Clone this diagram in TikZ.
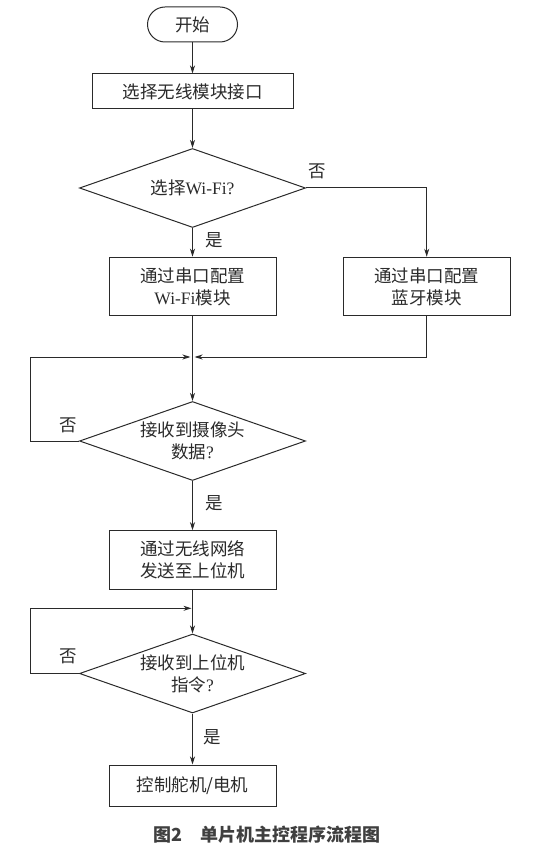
\documentclass[tikz,border=0pt]{standalone}
\usepackage{fontspec}
\setmainfont{Liberation Serif}
\newfontfamily\cjk{Noto Sans CJK SC}
\usetikzlibrary{shapes.geometric,arrows.meta}
\definecolor{ink}{HTML}{2A2A2A}
\begin{document}
\begin{tikzpicture}[x=1pt,y=-1pt,line width=1pt,
  every node/.style={text=ink},
  txt/.style={font=\cjk\fontsize{17.5}{22}\selectfont, align=center, inner sep=0pt},
  startbox/.style={draw=ink, rectangle, rounded corners=17.5pt, minimum width=90pt, minimum height=35pt, inner sep=0pt, txt},
  procbox/.style={draw=ink, rectangle, minimum width=167pt, minimum height=58.5pt, inner sep=0pt, txt},
  dia/.style={draw=ink, diamond, minimum width=226pt, minimum height=79pt, inner sep=0pt},
  lbl/.style={txt},
  arr/.style={draw=ink, -{Stealth[length=8pt,width=5pt,inset=2.5pt]}},
  ln/.style={draw=ink}]
\useasboundingbox (0,0) rectangle (534,850);

\node[startbox] (start) at (192.5,24.5) {开始};
\node[procbox, minimum width=201pt, minimum height=35pt] (b1) at (192.5,91.5) {选择无线模块接口};
\node[dia] (d1) at (192.5,188) {};
\node[txt] (d1t) at (192.5,188) {选择\rmfamily Wi-Fi?};
\node[procbox] (b2) at (192.5,286.5) {通过串口配置\\{\rmfamily Wi-Fi}模块};
\node[procbox] (b3) at (426.7,286.5) {通过串口配置\\蓝牙模块};
\coordinate (m) at (192.5,357);
\coordinate (l1) at (30.7,357);
\node[dia] (d2) at (192.5,441) {};
\node[txt] (d2t) at (192.5,441) {接收到摄像头\\数据{\rmfamily ?}};
\node[procbox] (b4) at (192.5,560) {通过无线网络\\发送至上位机};
\coordinate (m2) at (192.5,608.3);
\coordinate (l2) at (30.7,608.3);
\node[dia] (d3) at (192.5,673.5) {};
\node[txt] (d3t) at (192.5,673.5) {接收到上位机\\指令{\rmfamily ?}};
\node[procbox, minimum height=41pt] (b5) at (192.5,785.5) {控制舵机/电机};

\node[lbl] (n1) at (317,171) {否};
\node[lbl] (y1) at (214,240) {是};
\node[lbl] (n2) at (68,425) {否};
\node[lbl] (y2) at (214,503) {是};
\node[lbl] (n3) at (68,656) {否};
\node[lbl] (y3) at (212,737) {是};

\draw[arr] (start) -- (b1);
\draw[arr] (b1) -- (d1);
\draw[arr] (d1) -- (b2);
\draw[arr] (d1.east) -| (b3.north);
\draw[arr] (b2) -- (d2);
\draw[arr] (b3.south) |- ([xshift=2pt]m);
\draw[arr] (d2.west) -| (l1) -- ([xshift=-2pt]m);
\draw[arr] (d2) -- (b4);
\draw[arr] (b4) -- (d3);
\draw[arr] (d3.west) -| (l2) -- ([xshift=-1pt]m2);
\draw[arr] (d3) -- (b5);

\node[font=\cjk\bfseries\fontsize{18}{22}\selectfont, text=ink!90] (cap) at (267,835) {图2　单片机主控程序流程图};
\end{tikzpicture}
\end{document}
